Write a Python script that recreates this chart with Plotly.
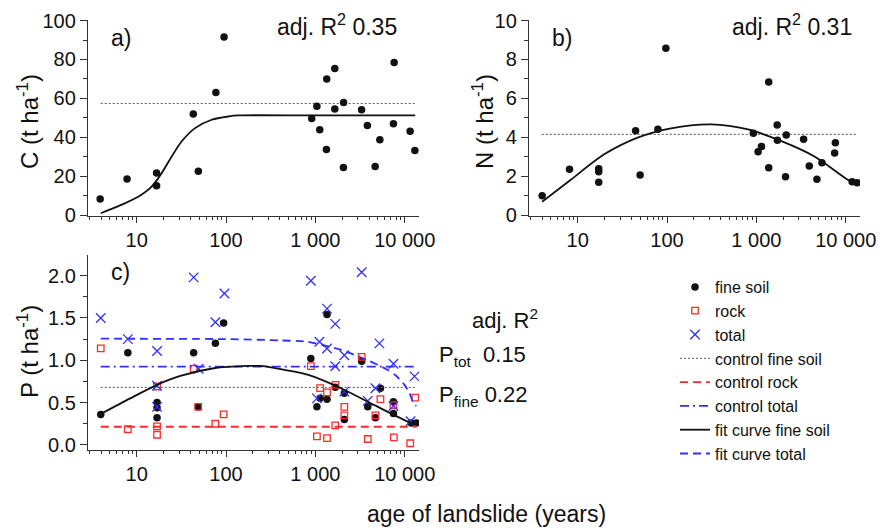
import plotly.graph_objects as go

# ---------------- data ----------------
# panel a: carbon
ages_a = [3.9, 7.8, 16.7, 16.7, 43, 49, 77, 95, 910, 1040, 1120, 1330, 1340, 1650, 1650,
          2070, 2060, 3290, 3820, 4670, 5270, 7620, 7480, 11500, 13000]
carbon = [8.2, 18.5, 21.6, 15.1, 52, 22.5, 63, 91.6, 49.6, 56, 43.8, 33.7, 70, 75.4, 54.5,
          57.9, 24.4, 54.1, 46, 24.9, 38.7, 78.4, 46.9, 43.1, 33.2]
fit_a_age = [3.96, 6.7, 10.4, 14.7, 19, 24.6, 31.8, 45, 69, 107, 138, 1000, 13100]
fit_a_c = [0.9, 5.2, 9.4, 14.6, 21.5, 30, 37.8, 44.7, 49, 50.7, 51.2, 51.2, 51.2]
control_c = 57.4

# panel b: nitrogen
ages_b = [4.0, 8.1, 17.2, 17.2, 17.2, 44.5, 50, 79, 97, 925, 1045, 1140, 1375, 1375, 1710,
          1720, 2120, 2160, 3380, 3910, 4760, 5420, 7660, 7520, 11800, 13400]
nitrogen = [0.99, 2.35, 2.38, 2.23, 1.68, 4.34, 2.06, 4.41, 8.58, 4.2, 3.26, 3.53, 6.84, 2.43,
            4.63, 3.84, 1.97, 4.12, 3.9, 2.52, 1.84, 2.69, 3.72, 3.19, 1.71, 1.66]
fit_b_age = [4.0, 8.3, 19.8, 46.9, 111, 312, 807, 1910, 4520, 10700, 13300]
fit_b_n = [0.68, 1.8, 3.12, 3.98, 4.46, 4.66, 4.4, 3.8, 3.0, 1.8, 1.6]
control_n = 4.15

# panel c: phosphorus
ages_fine = [3.96, 7.96, 16.9, 16.9, 16.9, 43.4, 48.8, 76, 94, 890, 1040, 1130, 1350, 1350,
             1670, 2110, 2110, 3300, 3860, 4700, 5350, 7480, 7480, 11840, 13470]
p_fine = [0.36, 1.09, 0.50, 0.44, 0.32, 1.09, 0.45, 1.20, 1.44, 1.02, 0.45, 0.55, 1.54, 0.54,
          0.68, 0.61, 0.30, 0.99, 0.45, 0.32, 0.67, 0.51, 0.37, 0.26, 0.26]
ages_rock = [3.96, 7.96, 16.9, 16.9, 16.9, 43.4, 48.8, 76, 94, 890, 1040, 1130, 1350, 1350,
             1680, 1670, 2110, 2110, 3300, 3860, 4700, 5350, 7480, 7560, 11530, 13130]
p_rock = [1.14, 0.185, 0.69, 0.22, 0.12, 0.90, 0.45, 0.25, 0.36, 0.93, 0.10, 0.67, 0.62, 0.08,
          0.71, 0.23, 0.45, 0.35, 1.04, 0.07, 0.35, 0.54, 0.47, 0.09, 0.02, 0.56]
ages_total = [3.96, 7.96, 16.9, 16.9, 16.9, 43.4, 49.3, 76, 96, 890, 1040, 1110, 1350, 1350,
              1670, 1670, 2110, 2110, 3300, 3860, 4700, 5210, 7480, 7480, 11620, 12880]
p_total = [1.50, 1.25, 1.11, 0.70, 0.45, 1.98, 0.90, 1.45, 1.79, 1.94, 0.55, 1.22, 1.61, 1.14,
           1.43, 0.93, 1.06, 0.63, 2.04, 0.52, 0.67, 1.20, 0.96, 0.46, 0.28, 0.81]
fit_fine_age = [3.96, 8.45, 16.9, 30.8, 73, 173, 244, 344, 817, 1936, 4580, 10870, 13460]
fit_fine_p = [0.366, 0.55, 0.71, 0.815, 0.906, 0.933, 0.933, 0.91, 0.83, 0.67, 0.47, 0.275, 0.24]
fit_total_age = [3.96, 100, 398, 794, 1430, 1995, 3860, 6470, 7940, 9950, 11220, 12360, 13490]
fit_total_p = [1.255, 1.25, 1.235, 1.22, 1.16, 1.12, 1.0, 0.886, 0.82, 0.709, 0.62, 0.51, 0.46]
control_fine_p = 0.68
control_rock_p = 0.215
control_total_p = 0.925
control_span = [3.96, 13600]

x_tickvals = [10, 100, 1000, 10000]
x_ticktext = ["10", "100", "1 000", "10 000"]
x_minor = [m * d for d in (1, 10, 100, 1000) for m in range(2, 10) if 2.85 < m * d < 15000]

# ---------------- styling ----------------
# the page body has an 8px margin, so the figure is drawn 8px in from the window edge
OFF = 8
W, H = 887 - OFF, 530 - OFF
FONT = "Arial, 'Liberation Sans', sans-serif"
BLACK = "#111111"
RED = "#ff2a2a"
BLUE = "#3030ff"
GREY = "#555555"


def px(x):
    return (x - OFF) / W


def py(y):
    return 1 - (y - OFF) / H


fig = go.Figure()


def ctrl_line(axis_n, yval, color, dash, width, name, legend):
    fig.add_trace(go.Scatter(
        x=control_span, y=[yval, yval], mode="lines",
        line=dict(color=color, dash=dash, width=width),
        name=name, showlegend=legend,
        xaxis="x" + axis_n, yaxis="y" + axis_n))


# panel a
ctrl_line("", control_c, GREY, "2px,2px", 1, "control", False)
fig.add_trace(go.Scatter(x=fit_a_age, y=fit_a_c, mode="lines",
                         line=dict(color=BLACK, width=1.8, shape="spline", smoothing=0.8),
                         showlegend=False))
fig.add_trace(go.Scatter(x=ages_a, y=carbon, mode="markers",
                         marker=dict(color=BLACK, size=7.5), showlegend=False))

# panel b
ctrl_line("2", control_n, GREY, "2px,2px", 1, "control", False)
fig.add_trace(go.Scatter(x=fit_b_age, y=fit_b_n, mode="lines",
                         line=dict(color=BLACK, width=1.8, shape="spline", smoothing=0.8),
                         showlegend=False, xaxis="x2", yaxis="y2"))
fig.add_trace(go.Scatter(x=ages_b, y=nitrogen, mode="markers",
                         marker=dict(color=BLACK, size=7.5), showlegend=False,
                         xaxis="x2", yaxis="y2"))

# panel c (these form the legend, in legend order)
fig.add_trace(go.Scatter(x=ages_fine, y=p_fine, mode="markers", name="fine soil",
                         marker=dict(color=BLACK, size=7.5), xaxis="x3", yaxis="y3"))
fig.add_trace(go.Scatter(x=ages_rock, y=p_rock, mode="markers", name="rock",
                         marker=dict(symbol="square-open", color=RED, size=6.5,
                                     line=dict(color=RED, width=1.3)),
                         xaxis="x3", yaxis="y3"))
fig.add_trace(go.Scatter(x=ages_total, y=p_total, mode="markers", name="total",
                         marker=dict(symbol="x-thin-open", color=BLUE, size=9.5,
                                     line=dict(color=BLUE, width=1.3)),
                         xaxis="x3", yaxis="y3"))
ctrl_line("3", control_fine_p, GREY, "2px,2px", 1, "control fine soil", True)
ctrl_line("3", control_rock_p, RED, "8px,5px", 1.8, "control rock", True)
ctrl_line("3", control_total_p, BLUE, "9px,4px,2px,4px", 1.8, "control total", True)
fig.add_trace(go.Scatter(x=fit_fine_age, y=fit_fine_p, mode="lines", name="fit curve fine soil",
                         line=dict(color=BLACK, width=1.8, shape="spline", smoothing=0.8),
                         xaxis="x3", yaxis="y3"))
fig.add_trace(go.Scatter(x=fit_total_age, y=fit_total_p, mode="lines", name="fit curve total",
                         line=dict(color=BLUE, width=1.8, dash="8px,5px", shape="spline",
                                   smoothing=0.6),
                         xaxis="x3", yaxis="y3"))

# ---------------- axes ----------------
tickfont = dict(family=FONT, size=20, color=BLACK)
xrange = [0.455, 4.16]


def xaxis(dom, anchor):
    return dict(type="log", domain=dom, anchor=anchor, range=xrange,
                tickmode="array", tickvals=x_tickvals, ticktext=x_ticktext,
                ticks="outside", ticklen=6, tickwidth=1.2, tickcolor="#333",
                minor=dict(tickmode="array", tickvals=x_minor, ticks="outside",
                           ticklen=3, tickwidth=1, tickcolor="#333"),
                showline=True, linecolor="#333", linewidth=1.3, showgrid=False,
                zeroline=False, tickfont=tickfont, automargin=False)


def yaxis(dom, anchor, rng, dtick, fmt):
    return dict(domain=dom, anchor=anchor, range=rng, dtick=dtick, tick0=0,
                tickformat=fmt, ticks="outside", ticklen=7, tickwidth=1.2, tickcolor="#333",
                minor=dict(dtick=dtick / 2, ticks="outside", ticklen=4, tickwidth=1,
                           tickcolor="#333"),
                showline=True, linecolor="#333", linewidth=1.3, showgrid=False,
                zeroline=False, tickfont=tickfont, automargin=False)


dom_ax = [px(88), px(419)]
dom_bx = [px(529), px(860)]
dom_top = [py(216), py(20)]
dom_c = [py(450), py(255)]

fig.update_layout(
    xaxis=xaxis(dom_ax, "y"),
    yaxis=yaxis(dom_top, "x", [-0.5, 100.3], 20, "d"),
    xaxis2=xaxis(dom_bx, "y2"),
    yaxis2=yaxis(dom_top, "x2", [-0.05, 10.03], 2, "d"),
    xaxis3=xaxis(dom_ax, "y3"),
    yaxis3=yaxis(dom_c, "x3", [-0.06, 2.244], 0.5, ".1f"),
)

# ---------------- text ----------------
ann = []


def text(x, y, s, size=21, xanchor="left", angle=0):
    ann.append(dict(x=px(x), y=py(y), xref="paper", yref="paper", text=s, showarrow=False,
                    xanchor=xanchor, yanchor="middle", textangle=angle,
                    font=dict(family=FONT, size=size, color=BLACK)))


text(121, 38, "a)", 23, "center")
text(562, 38, "b)", 23, "center")
text(121, 272, "c)", 23, "center")
text(275, 25, "adj. R<sup>2</sup> 0.35", 23)
text(730, 25, "adj. R<sup>2</sup> 0.31", 23)
text(470, 319, "adj. R<sup>2</sup>", 22)
text(437, 356, "P<sub>tot</sub>  0.15", 22)
text(437, 396, "P<sub>fine</sub> 0.22", 22)
text(28, 122, "C (t ha<sup>-1</sup>)", 24, "center", -90)
text(483, 122, "N (t ha<sup>-1</sup>)", 24, "center", -90)
text(28, 352, "P (t ha<sup>-1</sup>)", 24, "center", -90)
text(487, 514, "age of landslide (years)", 23, "center")

fig.update_layout(
    width=W, height=H, margin=dict(l=0, r=0, t=0, b=0),
    paper_bgcolor="white", plot_bgcolor="white", template="none",
    font=dict(family=FONT, color=BLACK),
    annotations=ann,
    legend=dict(x=px(675), y=py(270), xanchor="left", yanchor="top",
                font=dict(family=FONT, size=16, color=BLACK),
                bgcolor="rgba(0,0,0,0)", tracegroupgap=0, itemwidth=30),
)

fig.write_html("out.html")
